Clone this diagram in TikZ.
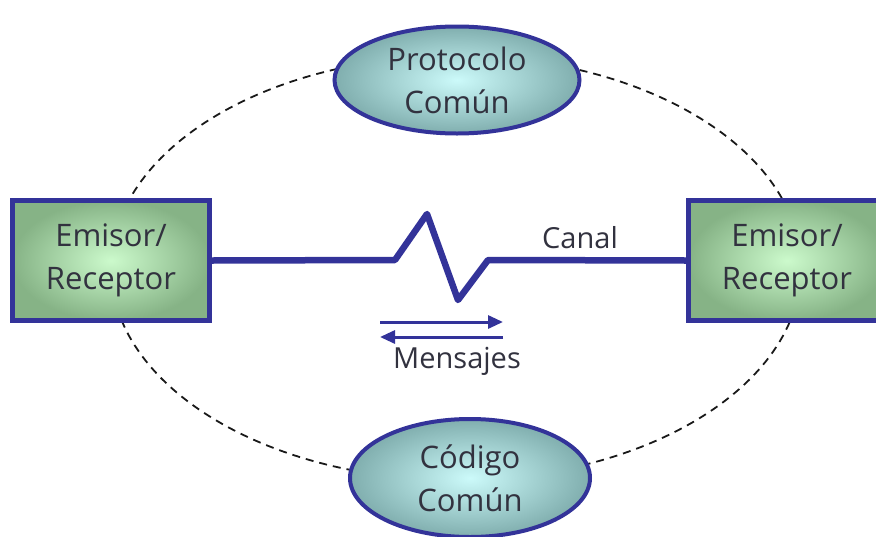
\documentclass[tikz,border=0pt]{standalone}
\usepackage{fontspec}
\setmainfont{Open Sans}
\usetikzlibrary{arrows.meta,shapes.geometric}
\definecolor{navy}{HTML}{333399}
\definecolor{txt}{HTML}{32323F}
\definecolor{boxin}{HTML}{CCFACC}
\definecolor{boxout}{HTML}{86B386}
\definecolor{elin}{HTML}{CCFAFA}
\definecolor{elout}{HTML}{80AEAE}
\tikzset{
  box/.style={rectangle, draw=navy, line width=5pt, inner color=boxin, outer color=boxout,
    minimum width=197pt, minimum height=120pt, text=txt, align=center,
    font=\fontsize{31}{43}\selectfont},
  oval/.style={ellipse, draw=navy, line width=4pt, inner color=elin, outer color=elout,
    text=txt, align=center, font=\fontsize{31}{43}\selectfont, inner sep=0pt},
  chan/.style={navy, line width=6.5pt, line join=round},
  msg/.style={navy, line width=3pt},
  lbl/.style={text=txt},
}
\begin{document}
\begin{tikzpicture}[x=1pt,y=-1pt]
\useasboundingbox (0,0) rectangle (876,536);
\clip (0,0) rectangle (876,536);
\draw[dash pattern=on 8pt off 6pt, line width=1.8pt, black!90] (456,268) ellipse [x radius=345, y radius=212];
\node[box] (left) at (111,260.5) {Emisor/\\Receptor};
\node[box] (right) at (787,260.5) {Emisor/\\Receptor};
\node[oval, minimum width=245pt, minimum height=107pt] (proto) at (457,80) {Protocolo\\Común};
\node[oval, minimum width=240pt, minimum height=118pt] (cod) at (470,478) {Código\\Común};
\coordinate (k1) at (395,260);
\coordinate (k2) at (427,214);
\coordinate (k3) at (458,300);
\coordinate (k4) at (488,260);
\draw[chan] (left.east) -- (k1) -- (k2) -- (k3) -- (k4) -- (right.west);
\node[lbl, font=\fontsize{29}{34}\selectfont] (canal) at (580,238) {Canal};
\coordinate (a1) at (380,322);
\coordinate (a2) at (503,322);
\coordinate (b1) at (503,337);
\coordinate (b2) at (380,337);
\draw[msg, -{Triangle[length=15pt,width=13pt]}] (a1) -- (a2);
\draw[msg, -{Triangle[length=15pt,width=13pt]}] (b1) -- (b2);
\node[lbl, font=\fontsize{29}{34}\selectfont] (mens) at (457,361) {Mensajes};
\end{tikzpicture}
\end{document}
